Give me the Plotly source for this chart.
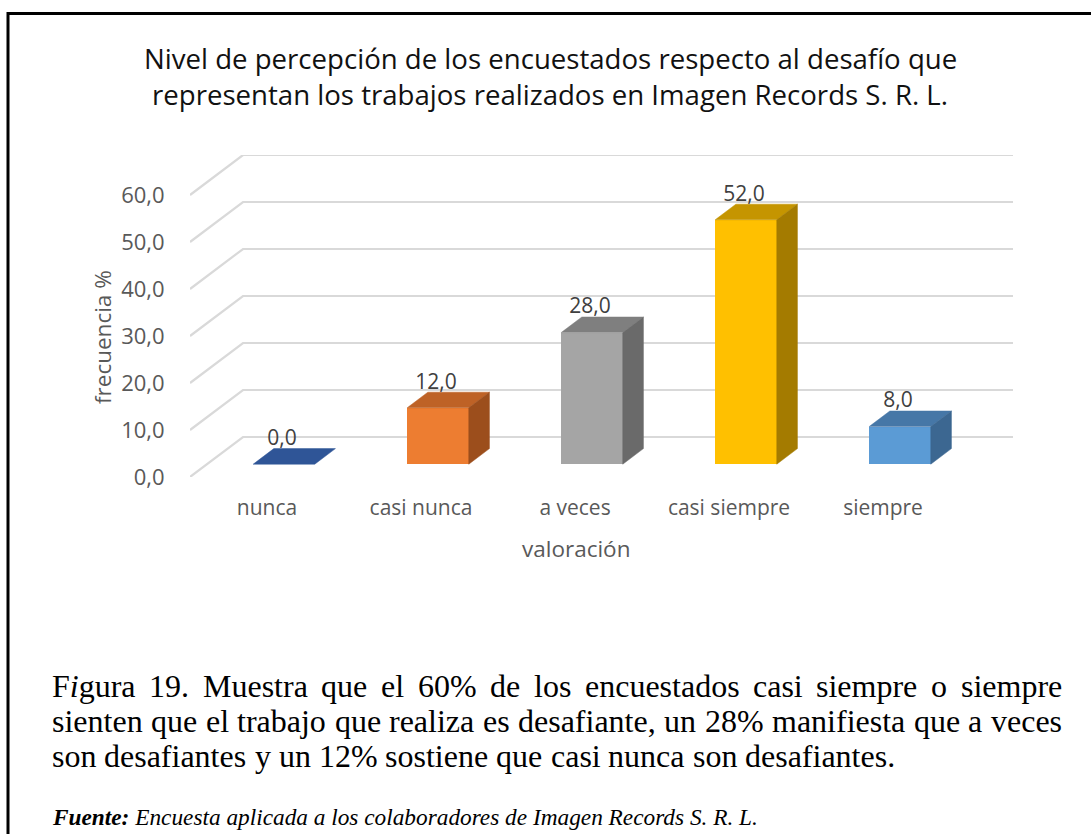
import plotly.graph_objects as go

# ---------------- data ----------------
categories = ["nunca", "casi nunca", "a veces", "casi siempre", "siempre"]
values = [0.0, 12.0, 28.0, 52.0, 8.0]
tick_values = [0, 10, 20, 30, 40, 50, 60]
tick_labels = ["0,0", "10,0", "20,0", "30,0", "40,0", "50,0", "60,0"]
value_labels = ["0,0", "12,0", "28,0", "52,0", "8,0"]

title_lines = ["Nivel de percepción de los encuestados respecto al desafío que",
               "representan los trabajos realizados en Imagen Records S. R. L."]
y_title = "frecuencia %"
x_title = "valoración"
caption_lines = [
    "Figura 19. Muestra que el 60% de los encuestados casi siempre o siempre",
    "sienten que el trabajo que realiza es desafiante, un 28% manifiesta que a veces",
    "son desafiantes y un 12% sostiene que casi nunca son desafiantes.",
]
source_bold = "Fuente:"
source_text = " Encuesta aplicada a los colaboradores de Imagen Records S. R. L."

# ---------------- style ----------------
front_colors = ["#4472C4", "#ED7D31", "#A5A5A5", "#FFC000", "#5B9BD5"]
top_colors = ["#2F5597", "#BE6226", "#7F7F7F", "#C59500", "#4677A7"]
side_colors = ["#284A85", "#9C4E1C", "#6A6A6A", "#A47B00", "#3C6791"]
GRID = "#D9D9D9"
LABEL = "#595959"
SANS = "Open Sans"
SERIF = "Liberation Serif"

W, H = 1091, 834
L, R, T, B = 190, 78, 155, 357          # plot area 190..1013 x 155..477
PW, PH = W - L - R, H - T - B

# 3-D projection (full depth of the chart box)
DX = 53 / 154.0      # x-units per full depth
DY = 40 / 4.70       # value-units per full depth
D_FRONT, D_BACK = 0.32, 0.71
BAR_W = 0.4
n = len(categories)

def px2x(px):
    return (px - L) / PW

def px2y(py):
    return (H - B - py) / PH

fig = go.Figure()

# back wall + side wall gridlines (as shapes below the traces)
shapes = []
for t in tick_values:
    shapes.append(dict(type="path", xref="x", yref="y", layer="below",
                       path=f"M {-0.5} {t} L {-0.5 + DX} {t + DY} L {n - 0.5 + DX} {t + DY}",
                       line=dict(color=GRID, width=2.2)))

# bars: front faces
base = D_FRONT * DY
centers = [i + D_FRONT * DX for i in range(n)]
fig.add_trace(go.Bar(x=centers, y=values, base=[base] * n, width=BAR_W,
                     marker=dict(color=front_colors, line=dict(width=0)),
                     showlegend=False, hoverinfo="skip"))

# top and side faces
sx = (D_BACK - D_FRONT) * DX
sy = (D_BACK - D_FRONT) * DY
for i, v in enumerate(values):
    x0 = centers[i] - BAR_W / 2
    x1 = centers[i] + BAR_W / 2
    y0 = base
    y1 = base + v
    fig.add_trace(go.Scatter(x=[x0, x1, x1 + sx, x0 + sx, x0],
                             y=[y1, y1, y1 + sy, y1 + sy, y1],
                             fill="toself", fillcolor=top_colors[i], mode="lines",
                             line=dict(width=0.5, color=top_colors[i]),
                             hoverinfo="skip", showlegend=False))
    if v > 0:
        fig.add_trace(go.Scatter(x=[x1, x1 + sx, x1 + sx, x1, x1],
                                 y=[y0, y0 + sy, y1 + sy, y1, y0],
                                 fill="toself", fillcolor=side_colors[i], mode="lines",
                                 line=dict(width=0.5, color=side_colors[i]),
                                 hoverinfo="skip", showlegend=False))

# data labels
fig.add_trace(go.Scatter(x=[c - 0.013 for c in centers],
                         y=[v + base + 5.2 for v in values],
                         mode="text", text=value_labels,
                         textfont=dict(family=SANS, size=21, color="#404040"),
                         textposition="middle center", cliponaxis=False,
                         hoverinfo="skip", showlegend=False))

annotations = []
# title
for k, line in enumerate(title_lines):
    annotations.append(dict(text=line, x=px2x(550), y=px2y(58 + 36 * k),
                            xref="paper", yref="paper", xanchor="center", yanchor="middle",
                            showarrow=False, font=dict(family=SANS, size=27.6, color="#111111")))
# axis titles
annotations.append(dict(text=y_title, x=px2x(102), y=px2y(337), xref="paper", yref="paper",
                        textangle=-90, showarrow=False, xanchor="center", yanchor="middle",
                        font=dict(family=SANS, size=22.5, color=LABEL)))
annotations.append(dict(text=x_title, x=px2x(576), y=px2y(548), xref="paper", yref="paper",
                        showarrow=False, xanchor="center", yanchor="middle",
                        font=dict(family=SANS, size=22.5, color=LABEL)))

# caption with justified lines (Times metrics)
TIMES = {' ': 250, '%': 833, ',': 250, '.': 250, ':': 278, '0': 500, '1': 500, '2': 500,
         '6': 500, '8': 500, '9': 500, 'F': 556, 'M': 889, 'a': 444, 'b': 500, 'c': 444,
         'd': 500, 'e': 444, 'f': 333, 'g': 500, 'h': 500, 'i': 278, 'j': 278, 'k': 500,
         'l': 278, 'm': 778, 'n': 500, 'o': 500, 'p': 500, 'q': 500, 'r': 333, 's': 389,
         't': 278, 'u': 500, 'v': 500, 'w': 722, 'x': 500, 'y': 500, 'z': 444}
CAP_SIZE = 32
CAP_LEFT, CAP_RIGHT = 52, 1062

def wwidth(word):
    return sum(TIMES.get(ch, 500) for ch in word) * CAP_SIZE / 1000.0

for k, line in enumerate(caption_lines):
    words = line.split(" ")
    widths = [wwidth(w) for w in words]
    justify = k < len(caption_lines) - 1
    gap = (CAP_RIGHT - CAP_LEFT - sum(widths)) / (len(words) - 1) if justify else 250 * CAP_SIZE / 1000.0
    xpos = CAP_LEFT
    ypx = 686 + 35 * k
    for w, wd in zip(words, widths):
        txt = w
        if w == "Figura":
            txt = "F<i>i</i>gura"
        annotations.append(dict(text=txt, x=px2x(xpos), y=px2y(ypx), xref="paper", yref="paper",
                                xanchor="left", yanchor="middle", showarrow=False,
                                borderpad=0, borderwidth=0,
                                font=dict(family=SERIF, size=CAP_SIZE, color="#000000")))
        xpos += wd + gap

annotations.append(dict(text="<b><i>" + source_bold + "</i></b><i>" + source_text + "</i>",
                        x=px2x(52), y=px2y(817), xref="paper", yref="paper",
                        xanchor="left", yanchor="middle", showarrow=False,
                        borderpad=0, borderwidth=0,
                        font=dict(family=SERIF, size=23.3, color="#000000")))

# outer frame (top and left edges)
shapes += [
    dict(type="line", xref="paper", yref="paper", x0=px2x(7), x1=px2x(1095),
         y0=px2y(13.5), y1=px2y(13.5), line=dict(color="black", width=3)),
    dict(type="line", xref="paper", yref="paper", x0=px2x(8), x1=px2x(8),
         y0=px2y(12), y1=px2y(840), line=dict(color="black", width=3)),
]

fig.update_layout(
    width=W, height=H,
    margin=dict(l=L, r=R, t=T, b=B, autoexpand=False),
    paper_bgcolor="white", plot_bgcolor="white",
    annotations=annotations,
    showlegend=False,
    bargap=0,
    shapes=shapes,
    xaxis=dict(range=[-0.5, n - 0.5 + DX], tickmode="array", tickvals=list(range(n)),
               ticktext=categories, showgrid=False, zeroline=False, showline=False,
               ticks="outside", ticklen=12, tickcolor="rgba(0,0,0,0)",
               tickfont=dict(family=SANS, size=21, color=LABEL), fixedrange=True),
    yaxis=dict(range=[0, 60 + DY], tickmode="array", tickvals=tick_values,
               ticktext=tick_labels, showgrid=False, zeroline=False, showline=False,
               ticks="outside", ticklen=20, tickcolor="rgba(0,0,0,0)",
               tickfont=dict(family=SANS, size=22, color=LABEL), fixedrange=True),
)

fig.write_html("out.html", config={"displayModeBar": False},
               post_script="document.body.style.margin='0';document.body.style.padding='0';")
